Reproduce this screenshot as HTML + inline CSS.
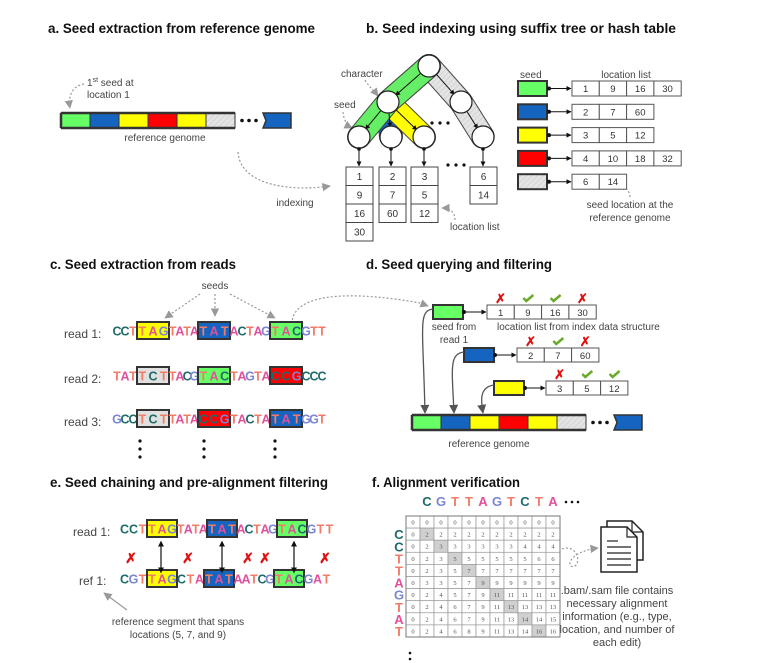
<!DOCTYPE html>
<html><head><meta charset="utf-8"><style>
html,body{margin:0;padding:0;background:#fff;}
svg{display:block;font-family:"Liberation Sans",sans-serif;}
</style></head><body>
<svg id="fig" width="770" height="663" viewBox="0 0 770 663" xmlns="http://www.w3.org/2000/svg">
<defs>
<marker id="ag" viewBox="0 0 10 10" refX="9" refY="5" markerWidth="7" markerHeight="7" orient="auto"><path d="M0,0L10,5L0,10z" fill="#999"/></marker>
<marker id="ak" viewBox="0 0 10 10" refX="9" refY="5" markerWidth="5" markerHeight="5" orient="auto"><path d="M0,0L10,5L0,10z" fill="#111"/></marker>
<marker id="akk" viewBox="0 0 10 10" refX="9" refY="5" markerWidth="7" markerHeight="7" orient="auto"><path d="M0,0L10,5L0,10z" fill="#555"/></marker>
<marker id="ak2" viewBox="0 0 10 10" refX="1" refY="5" markerWidth="5" markerHeight="5" orient="auto-start-reverse"><path d="M0,0L10,5L0,10z" fill="#111"/></marker>
<pattern id="hatch" width="4" height="4" patternUnits="userSpaceOnUse" patternTransform="rotate(45)"><rect width="4" height="4" fill="#e4e4e4"/><line x1="0" y1="0" x2="0" y2="4" stroke="#cfcfcf" stroke-width="1.5"/></pattern>
</defs>
<g font-weight="bold" font-size="14" fill="#111">
<text x="48" y="33" textLength="267" lengthAdjust="spacingAndGlyphs">a. Seed extraction from reference genome</text>
<text x="366" y="33" textLength="310" lengthAdjust="spacingAndGlyphs">b. Seed indexing using suffix tree or hash table</text>
<text x="50" y="269" textLength="186" lengthAdjust="spacingAndGlyphs">c. Seed extraction from reads</text>
<text x="366" y="269" textLength="186" lengthAdjust="spacingAndGlyphs">d. Seed querying and filtering</text>
<text x="50" y="487" textLength="278" lengthAdjust="spacingAndGlyphs">e. Seed chaining and pre-alignment filtering</text>
<text x="372" y="487" textLength="148" lengthAdjust="spacingAndGlyphs">f. Alignment verification</text>
</g>
<g font-size="10" fill="#444">
<text x="87" y="86">1<tspan font-size="7" dy="-4">st</tspan><tspan dy="4"> seed at</tspan></text>
<text x="87" y="98">location 1</text>
<text x="165" y="141" text-anchor="middle">reference genome</text>
<text x="295" y="206" text-anchor="middle">indexing</text>
<text x="341" y="77">character</text>
<text x="334" y="108">seed</text>
<text x="450" y="230">location list</text>
<text x="520" y="78">seed</text>
<text x="626" y="78" text-anchor="middle">location list</text>
<text x="630" y="208" text-anchor="middle">seed location at the</text>
<text x="630" y="221" text-anchor="middle">reference genome</text>
<text x="215" y="289" text-anchor="middle">seeds</text>
<text x="454" y="330" text-anchor="middle">seed from</text>
<text x="454" y="343" text-anchor="middle">read 1</text>
<text x="497" y="330">location list from index data structure</text>
<text x="489" y="447" text-anchor="middle">reference genome</text>
<text x="178" y="625" text-anchor="middle">reference segment that spans</text>
<text x="178" y="638" text-anchor="middle">locations (5, 7, and 9)</text>
</g>
<g font-size="11" fill="#444" text-anchor="middle">
<text x="617" y="594">.bam/.sam file contains</text>
<text x="617" y="607">necessary alignment</text>
<text x="617" y="620">information (e.g., type,</text>
<text x="617" y="633">location, and number of</text>
<text x="617" y="646">each edit)</text>
</g>
<g font-size="12" fill="#444">
<text x="64" y="338">read 1:</text>
<text x="64" y="383">read 2:</text>
<text x="64" y="426">read 3:</text>
<text x="73" y="536">read 1:</text>
<text x="79" y="585">ref 1:</text>
</g>
<g fill="none" stroke="#999" stroke-width="1.2" stroke-dasharray="2,2">
<path d="M84,84 C72,86 68,96 70,108" marker-end="url(#ag)"/>
<path d="M238,152 C240,185 290,192 330,186" marker-end="url(#ag)"/>
<path d="M365,80 C370,88 375,92 378,96" marker-end="url(#ag)"/>
<path d="M343,112 C344,122 348,126 352,128" marker-end="url(#ag)"/>
<path d="M455,220 C455,212 450,208 442,208" marker-end="url(#ag)"/>
<path d="M630,197 C630,190 624,186 618,184" marker-end="url(#ag)"/>
<path d="M200,294 L165,318" marker-end="url(#ag)"/>
<path d="M215,294 L215,316" marker-end="url(#ag)"/>
<path d="M230,294 L275,318" marker-end="url(#ag)"/>
<path d="M292,324 C292,290 360,292 420,303 L428,306" marker-end="url(#ag)"/>
<path d="M127,610 L104,593" stroke-dasharray="none" marker-end="url(#ag)"/>
<path d="M562,549 C575,544 582,560 575,566 C566,570 566,552 598,548" marker-end="url(#ag)"/>
</g>
<g id="dyn"></g>
</svg>
<script>
var NS='http://www.w3.org/2000/svg';
var root=document.getElementById('dyn');
var seedColors=['#66ff66','#1565c0','#ffff00','#ff0000','url(#hatch)'];
var locationLists=[[1,9,16,30],[2,7,60],[3,5,12],[4,10,18,32],[6,14]];
var treeLists=[[1,9,16,30],[2,7,60],[3,5,12],[6,14]];
var queryLists=[[1,9,16,30],[2,7,60],[3,5,12]];
var queryPass=[[0,1,1,0],[0,1,0],[0,1,1]];
var genomeSeq=[0,1,2,3,2,4];
var colLetters=['C','G','T','T','A','G','T','C','T','A'];
var rowLetters=['C','C','T','T','A','G','T','A','T'];
var matrixRows=[
[0,0,0,0,0,0,0,0,0,0,0],
[0,2,2,2,2,2,2,2,2,2,2],
[0,2,3,3,3,3,3,3,4,4,4],
[0,2,3,5,5,5,5,5,5,6,6],
[0,2,3,5,7,7,7,7,7,7,7],
[0,3,3,5,7,9,9,9,9,9,9],
[0,2,4,5,7,9,11,11,11,11,11],
[0,2,4,6,7,9,11,13,13,13,13],
[0,2,4,6,7,9,11,13,14,14,15],
[0,2,4,6,8,9,11,13,14,16,16]];
var read1=[['CCT',0],['TAG',3],['TATA',0],['TAT',2],['ACTAG',0],['TAC',1],['GTT',0]];
var read2=[['TAT',0],['TCT',5],['TACG',0],['TAC',1],['TAGTA',0],['CCG',4],['CCC',0]];
var read3=[['GCC',0],['TCT',5],['TATA',0],['CCG',4],['TACTA',0],['TAT',2],['GGT',0]];
var readE=[['CCT',0],['TAG',3],['TATA',0],['TAT',2],['ACTAG',0],['TAC',1],['GTT',0]];
var refE=[['CGT',0],['TAG',3],['CTA',0],['TAT',2],['AATCG',0],['TAC',1],['GAT',0]];
var boxFill=[null,'#66ff66','#1565c0','#ffff00','#ff0000','#e0e0e0'];
var letterColor={C:'#1d6b6b',G:'#7b86d0',T:'#f27c68',A:'#e2509a'};

function mk(tag,attrs,parent,nm){
  var el=document.createElementNS(NS,tag);
  for(var k in attrs) el.setAttribute(k,attrs[k]);
  
  
  (parent||root).appendChild(el);return el;
}
function txt(x,y,s,size,fill,anchor,nm,extra){
  var a={x:x,y:y,'font-size':size,fill:fill,'text-anchor':anchor||'start'};
  if(extra) for(var k in extra) a[k]=extra[k];
  var t=mk('text',a,null,nm);t.textContent=s;return t;
}
function genome(x,y,nm){
  var w=29,h=15;
  for(var i=0;i<genomeSeq.length;i++){
    mk('rect',{x:x+i*w,y:y,width:w,height:h,fill:seedColors[genomeSeq[i]],stroke:'#333','stroke-width':1},null,nm+'-segment');
  }
  mk('path',{d:'M'+x+','+y+'H'+(x+6*w)+'M'+x+','+(y+h)+'H'+(x+6*w)+'M'+x+','+y+'V'+(y+h),stroke:'#333','stroke-width':2.5,fill:'none'},null,nm+'-outline');
  for(var d=0;d<3;d++) mk('circle',{cx:x+6*w+7+d*7,cy:y+h/2,r:1.8,fill:'#111'},null,nm+'-dot');
  mk('path',{d:'M'+(x+6*w+28)+','+y+'h28v'+h+'h-28l3,-'+(h/2)+'z',fill:'#1565c0',stroke:'#333','stroke-width':1.5},null,nm+'-last-segment');
}
genome(61,113,'genome-a');
genome(412,415,'genome-d');

function band(pts,color,nm){
  var d='M'+pts.map(function(p){return p.join(',');}).join('L');
  mk('path',{d:d,fill:'none',stroke:'#444','stroke-width':24,'stroke-linecap':'round','stroke-linejoin':'round','stroke-dasharray':'1,1'},null,nm+'-outline');
  mk('path',{d:d,fill:'none',stroke:color,'stroke-width':22,'stroke-linecap':'round','stroke-linejoin':'round'},null,nm);
}
var N={r:[429,66],l:[388,102],g:[461,102],a:[359,137],b:[391,137],c:[424,137],d:[483,137]};
band([N.r,N.g,N.d],'url(#hatch)','gray-seed-band');
band([N.r,N.l,N.b],'#1565c0','blue-seed-band');
band([N.l,N.c],'#ffff00','yellow-seed-band');
band([N.r,N.l,N.a],'#66ee66','green-seed-band');
var edges=[['r','l'],['r','g'],['l','a'],['l','b'],['l','c'],['g','d']];
edges.forEach(function(e){
  var p=N[e[0]],q=N[e[1]];var dx=q[0]-p[0],dy=q[1]-p[1],L=Math.sqrt(dx*dx+dy*dy);
  mk('line',{x1:p[0]+dx/L*10,y1:p[1]+dy/L*10,x2:q[0]-dx/L*10,y2:q[1]-dy/L*10,stroke:'#111','stroke-width':1,'marker-end':'url(#ak)'},null,'tree-edge');
});
for(var k in N) mk('circle',{cx:N[k][0],cy:N[k][1],r:11,fill:'#fff',stroke:'#222','stroke-width':1.2},null,'tree-node');
var leafX=[359,391,424,483],colX=[346,379,411,470];
treeLists.forEach(function(list,i){
  mk('line',{x1:leafX[i],y1:148,x2:leafX[i],y2:166,stroke:'#111','stroke-width':1,'marker-end':'url(#ak)'},null,'leaf-pointer');
  mk('circle',{cx:leafX[i],cy:149,r:1.8,fill:'#111'},null,'leaf-pointer-dot');
  list.forEach(function(v,j){
    mk('rect',{x:colX[i],y:167+j*18.5,width:27,height:18.5,fill:'#fff',stroke:'#444','stroke-width':1},null,'tree-location-cell');
    txt(colX[i]+13.5,180+j*18.5,String(v),10,'#333','middle','tree-location-value');
  });
});
[[432,123],[440,123],[448,123],[448,165],[456,165],[464,165]].forEach(function(p){mk('circle',{cx:p[0],cy:p[1],r:1.6,fill:'#111'},null,'ellipsis-dot');});

locationLists.forEach(function(list,i){
  var y=81+i*23.3;
  mk('rect',{x:518,y:y,width:29,height:15,fill:seedColors[i],stroke:'#333','stroke-width':2},null,'hash-seed-'+i);
  mk('circle',{cx:549,cy:y+7.5,r:2,fill:'#111'},null,'hash-pointer-dot');
  mk('line',{x1:549,y1:y+7.5,x2:571,y2:y+7.5,stroke:'#111','stroke-width':1,'marker-end':'url(#ak)'},null,'hash-pointer');
  list.forEach(function(v,j){
    mk('rect',{x:572+j*27.3,y:y,width:27.3,height:15,fill:'#fff',stroke:'#555','stroke-width':1},null,'hash-location-cell');
    txt(585.6+j*27.3,y+11,String(v),9.5,'#333','middle','hash-location-value');
  });
});

function seq(x0,y,parts,pfx){
  var x=x0;
  parts.forEach(function(p){
    var n=p[0].length,box=p[1];
    var w=box?(x0<118?32:30):(n===3?(x0<118?24:27):(n===4?(x0<118?29:30):40));
    if(box) mk('rect',{x:x,y:y-12,width:w,height:17,fill:boxFill[box],stroke:'#333','stroke-width':2},null,pfx+'-seed-box');
    var cw=w/n;
    for(var i=0;i<n;i++){
      var c=p[0][i];
      txt(x+cw*(i+0.5),y+1.5,c,12.5,letterColor[c],'middle',pfx+'-base',{'font-weight':'bold'});
    }
    x+=w;
  });
}
seq(113,334,read1,'read1');
seq(113,379,read2,'read2');
seq(113,422,read3,'read3');
seq(120,532,readE,'read1-e');
seq(120,582,refE,'ref1-e');
[140,204,275].forEach(function(x){for(var d=0;d<3;d++) mk('circle',{cx:x,cy:441+d*8,r:1.6,fill:'#111'},null,'read-ellipsis-dot');});

var qSeedX=[433,464,494],qSeedY=[305,348,381],qListX=[487,517,546];
queryLists.forEach(function(list,i){
  var y=qSeedY[i];
  mk('rect',{x:qSeedX[i],y:y,width:30,height:14,fill:seedColors[i],stroke:'#333','stroke-width':2},null,'query-seed-'+i);
  mk('circle',{cx:qSeedX[i]+31,cy:y+7,r:2,fill:'#111'},null,'query-pointer-dot');
  mk('line',{x1:qSeedX[i]+31,y1:y+7,x2:qListX[i]-1,y2:y+7,stroke:'#111','stroke-width':1,'marker-end':'url(#ak)'},null,'query-pointer');
  list.forEach(function(v,j){
    var cx=qListX[i]+j*27.3;
    mk('rect',{x:cx,y:y,width:27.3,height:14,fill:'#fff',stroke:'#555','stroke-width':1},null,'query-location-cell');
    txt(cx+13.6,y+11,String(v),9.5,'#333','middle','query-location-value');
    if(queryPass[i][j]) mk('path',{d:'M'+(cx+9)+','+(y-7)+'l3,3l7,-6',fill:'none',stroke:'#6aaa2a','stroke-width':2.5},null,'pass-check');
    else txt(cx+13.6,y-2,'✗',13,'#e01010','middle','fail-mark',{'font-weight':'bold'});
  });
  var sx=qSeedX[i],gx=[425,454,483][i];
  mk('path',{d:'M'+sx+','+(y+4)+' C'+(sx-15)+','+(y+6)+' '+(gx-2)+','+(y+20)+' '+gx+','+413,fill:'none',stroke:'#555','stroke-width':1.3,'marker-end':'url(#akk)'},null,'seed-to-genome-arrow');
});

[161,222,294].forEach(function(x){mk('line',{x1:x,y1:546,x2:x,y2:568,stroke:'#111','stroke-width':1.2,'marker-end':'url(#ak2)','marker-start':'url(#ak2)'},null,'seed-match-arrow');});
[131,188,248,265,325].forEach(function(x){txt(x,563,'✗',14,'#e01010','middle','mismatch-mark',{'font-weight':'bold'});});

var mx=406,my=516,cw=14,rh=12.1;
colLetters.forEach(function(c,i){txt(mx+cw*(i+1.5),506,c,13,letterColor[c],'middle','matrix-col-letter',{'font-weight':'bold'});});
rowLetters.forEach(function(c,i){txt(399,my+rh*(i+1.5)+5,c,13,letterColor[c],'middle','matrix-row-letter',{'font-weight':'bold'});});
matrixRows.forEach(function(row,r){
  row.forEach(function(v,c){
    mk('rect',{x:mx+c*cw,y:my+r*rh,width:cw,height:rh,fill:(r>0&&r===c)?'#d0d0d0':'#fff',stroke:'#999','stroke-width':0.7},null,'matrix-cell');
    txt(mx+c*cw+cw/2,my+r*rh+8.5,String(v),6.5,'#555','middle','matrix-value',{'font-family':'Liberation Serif, serif'});
  });
});
mk('rect',{x:mx,y:my,width:cw*11,height:rh*10,fill:'none',stroke:'#777','stroke-width':1},null,'matrix-border');
[566,572,578].forEach(function(x){mk('circle',{cx:x,cy:502,r:1.3,fill:'#111'},null,'matrix-ellipsis-dot');});
[653,659].forEach(function(y){mk('circle',{cx:410,cy:y,r:1.3,fill:'#111'},null,'matrix-ellipsis-dot');});

mk('path',{d:'M607,521h25l11,11v28h-36z',fill:'#fff',stroke:'#222','stroke-width':1.5},null,'doc-back');
mk('path',{d:'M632,521v11h11',fill:'none',stroke:'#222','stroke-width':1.2},null,'doc-back-fold');
mk('path',{d:'M601,527h26l10,10v35h-36z',fill:'#fff',stroke:'#222','stroke-width':1.5},null,'doc-front');
mk('path',{d:'M627,527v10h10',fill:'none',stroke:'#222','stroke-width':1.2},null,'doc-front-fold');
[[607,618],[607,631],[607,631],[607,631],[607,631]].forEach(function(l,i){mk('line',{x1:l[0],y1:541+i*6,x2:l[1],y2:541+i*6,stroke:'#222','stroke-width':1.2},null,'doc-line');});
</script>
</body></html>
